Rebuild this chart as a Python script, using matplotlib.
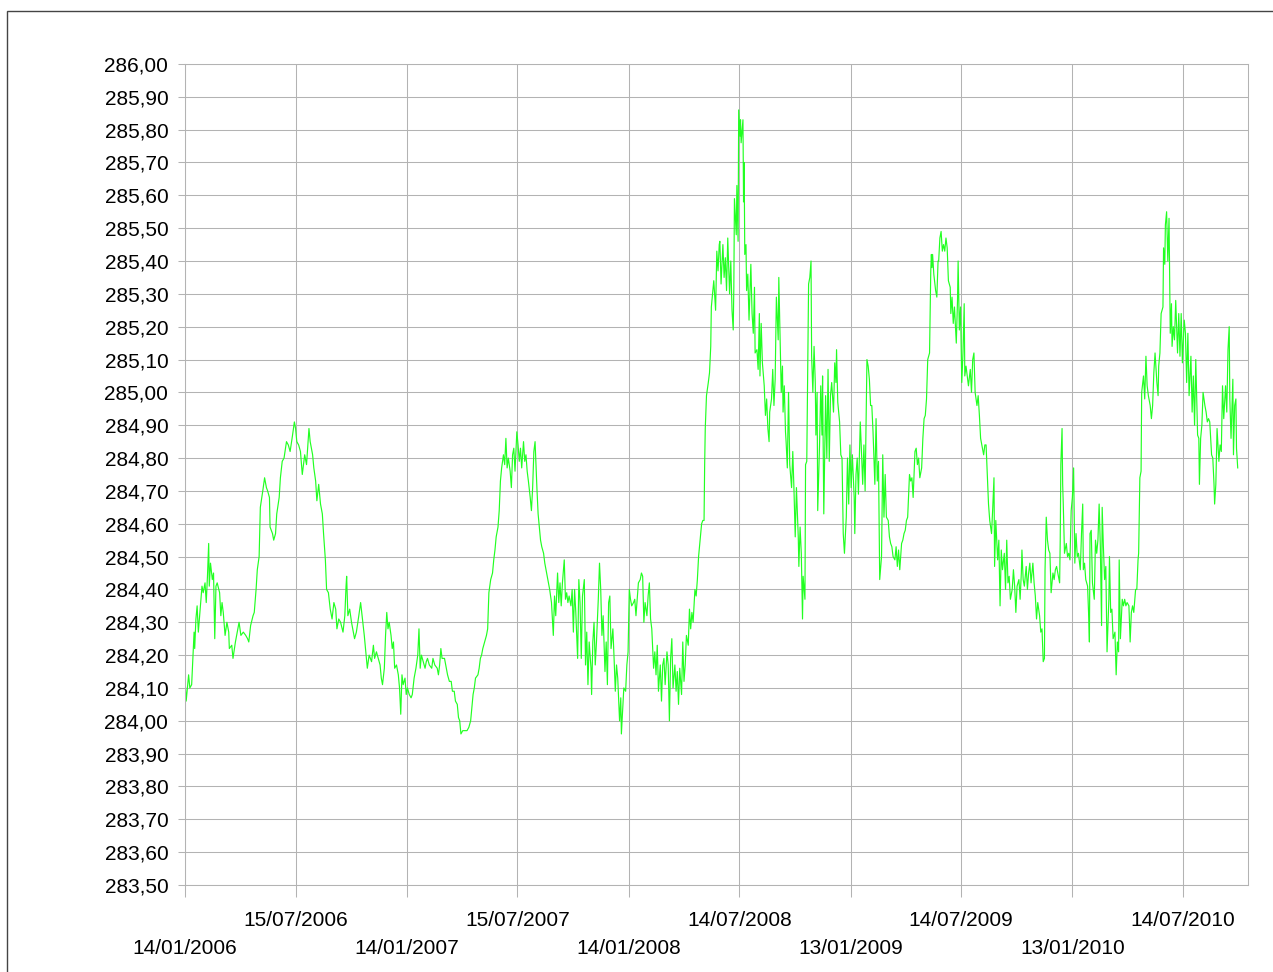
import numpy as np
import matplotlib
matplotlib.use("Agg")
import matplotlib.pyplot as plt
import matplotlib.dates as mdates
from matplotlib.patches import Rectangle
from matplotlib.ticker import FuncFormatter, MultipleLocator

plt.rcParams['font.family'] = ['Liberation Sans', 'DejaVu Sans']

# (day offset from 14/01/2006, value)
start_date = np.datetime64('2006-01-14')

seg_2006 = [
    (0, 284.13), (2, 284.06), (6, 284.14), (8, 284.10), (11, 284.11), (13, 284.19), (15, 284.27),
    (16, 284.22), (18, 284.31), (20, 284.35), (22, 284.27), (25, 284.34), (28, 284.41), (30, 284.39),
    (33, 284.42), (35, 284.36), (37, 284.44), (39, 284.54), (40, 284.41), (42, 284.48), (45, 284.43),
    (47, 284.45), (49, 284.25), (51, 284.41), (53, 284.42), (57, 284.39), (59, 284.32), (61, 284.36),
    (63, 284.33), (66, 284.26), (69, 284.30), (72, 284.27), (73, 284.22), (77, 284.23), (79, 284.19),
    (83, 284.24), (85, 284.26), (89, 284.30), (92, 284.26), (96, 284.27), (100, 284.26), (103, 284.25),
    (105, 284.24), (108, 284.29), (112, 284.32), (114, 284.33), (117, 284.40), (119, 284.46),
    (122, 284.50), (124, 284.65), (128, 284.70), (131, 284.74), (134, 284.71), (136, 284.70),
    (139, 284.68), (140, 284.59), (144, 284.57), (146, 284.55), (149, 284.57), (151, 284.63),
    (155, 284.68), (157, 284.74), (160, 284.79), (163, 284.80), (167, 284.85), (170, 284.84),
    (173, 284.82), (177, 284.87), (180, 284.91), (182, 284.89), (184, 284.85), (187, 284.84),
    (190, 284.82), (193, 284.75), (197, 284.81), (200, 284.78), (204, 284.89), (206, 284.85),
    (210, 284.81), (212, 284.77), (215, 284.73), (217, 284.67), (220, 284.72), (223, 284.66),
    (226, 284.63), (228, 284.57), (231, 284.49), (233, 284.40), (236, 284.39), (239, 284.34),
    (242, 284.31), (245, 284.36), (248, 284.34), (250, 284.28), (253, 284.31), (256, 284.30),
    (260, 284.27), (263, 284.32), (265, 284.41), (266, 284.44), (268, 284.32), (271, 284.34),
    (274, 284.30), (277, 284.27), (279, 284.25), (282, 284.27), (286, 284.32), (289, 284.36),
    (292, 284.31), (295, 284.26), (297, 284.22), (300, 284.16), (303, 284.20),
]

seg_2007 = [
    (307, 284.18), (310, 284.23), (312, 284.19), (315, 284.21), (318, 284.19), (321, 284.17),
    (323, 284.13), (325, 284.11), (328, 284.16), (330, 284.26), (332, 284.33), (334, 284.28),
    (336, 284.30), (339, 284.26), (341, 284.22), (343, 284.24), (345, 284.16), (348, 284.17),
    (351, 284.14), (353, 284.10), (355, 284.02), (357, 284.14), (359, 284.11), (362, 284.13),
    (364, 284.08), (366, 284.10), (369, 284.08), (372, 284.07), (374, 284.08), (377, 284.13),
    (380, 284.16), (383, 284.20), (385, 284.28), (387, 284.16), (389, 284.20), (392, 284.18),
    (395, 284.16), (397, 284.18), (399, 284.19), (402, 284.17), (406, 284.16), (408, 284.19),
    (411, 284.17), (415, 284.16), (417, 284.14), (419, 284.17), (421, 284.22), (423, 284.19),
    (427, 284.19), (430, 284.16), (432, 284.14), (435, 284.12), (438, 284.12), (440, 284.09),
    (443, 284.09), (445, 284.06), (448, 284.05), (450, 284.01), (452, 284.00), (454, 283.96),
    (457, 283.97), (460, 283.97), (464, 283.97), (467, 283.98), (470, 284.00), (472, 284.04),
    (474, 284.08), (476, 284.10), (478, 284.13), (482, 284.14), (484, 284.16), (486, 284.19),
    (488, 284.20), (490, 284.22), (493, 284.24), (496, 284.26), (498, 284.28), (500, 284.39),
    (503, 284.43), (506, 284.45), (508, 284.49), (510, 284.52), (512, 284.56), (515, 284.59),
    (517, 284.64), (519, 284.73), (521, 284.77), (524, 284.81), (526, 284.78), (528, 284.86),
    (530, 284.77), (532, 284.80), (535, 284.76), (537, 284.71), (539, 284.81), (541, 284.83),
    (543, 284.76), (546, 284.88), (548, 284.84), (550, 284.79), (552, 284.83), (554, 284.77),
    (557, 284.85), (559, 284.79), (561, 284.81), (563, 284.76), (565, 284.73), (568, 284.68),
    (570, 284.64), (572, 284.71), (574, 284.82), (576, 284.85), (579, 284.71), (581, 284.63),
    (583, 284.59), (585, 284.55), (587, 284.53), (590, 284.51), (592, 284.48), (595, 284.45),
    (597, 284.43), (600, 284.40),
]

seg_2008 = [
    (603, 284.36), (606, 284.26), (608, 284.38), (610, 284.32), (613, 284.45), (615, 284.36),
    (617, 284.42), (619, 284.35), (621, 284.42), (624, 284.49), (626, 284.37), (628, 284.39),
    (630, 284.36), (632, 284.38), (635, 284.35), (637, 284.40), (639, 284.27), (641, 284.40),
    (643, 284.33), (646, 284.19), (648, 284.43), (650, 284.36), (652, 284.19), (654, 284.38),
    (657, 284.43), (659, 284.17), (661, 284.27), (663, 284.11), (665, 284.24), (668, 284.16),
    (669, 284.08), (671, 284.24), (673, 284.30), (675, 284.17), (677, 284.24), (680, 284.37),
    (682, 284.48), (684, 284.40), (686, 284.26), (688, 284.32), (691, 284.15), (693, 284.24),
    (695, 284.11), (697, 284.36), (699, 284.38), (701, 284.22), (704, 284.28), (706, 284.19),
    (708, 284.09), (710, 284.17), (712, 284.13), (715, 284.00), (717, 284.07), (718, 283.96),
    (720, 284.03), (722, 284.10), (725, 284.09), (727, 284.17), (729, 284.21), (731, 284.40),
    (733, 284.37), (735, 284.35), (738, 284.36), (740, 284.37), (742, 284.32), (744, 284.37),
    (746, 284.42), (749, 284.43), (751, 284.45), (753, 284.44), (755, 284.30), (757, 284.36),
    (760, 284.32), (762, 284.38), (764, 284.42), (766, 284.31), (768, 284.28), (771, 284.16),
    (773, 284.21), (775, 284.14), (777, 284.23), (779, 284.09), (782, 284.17), (784, 284.06),
    (786, 284.17), (788, 284.19), (790, 284.11), (793, 284.21), (795, 284.17), (797, 284.00),
    (799, 284.19), (801, 284.25), (803, 284.10), (806, 284.17), (808, 284.09), (810, 284.15),
    (812, 284.05), (814, 284.16), (817, 284.08), (819, 284.24), (821, 284.12), (823, 284.17),
    (825, 284.26), (828, 284.23), (830, 284.34), (832, 284.28), (834, 284.33), (836, 284.30),
    (839, 284.40), (841, 284.38), (843, 284.43), (845, 284.50), (847, 284.54), (850, 284.60),
    (852, 284.61), (854, 284.61), (855, 284.78), (856, 284.89), (858, 284.99), (861, 285.03),
    (863, 285.06), (865, 285.14), (866, 285.26), (868, 285.30), (870, 285.34), (873, 285.25),
    (875, 285.43), (877, 285.37), (879, 285.45),
]

seg_2008b = [
    (880, 285.46), (882, 285.33), (885, 285.45), (887, 285.35), (889, 285.41), (891, 285.31),
    (893, 285.47), (896, 285.30), (898, 285.40), (900, 285.25), (902, 285.19), (903, 285.32),
    (904, 285.59), (907, 285.48), (908, 285.63), (910, 285.46), (911, 285.86), (913, 285.78),
    (914, 285.83), (915, 285.76), (918, 285.83), (919, 285.58), (920, 285.70), (921, 285.42),
    (923, 285.45), (924, 285.31), (926, 285.36), (928, 285.22), (931, 285.39), (933, 285.24),
    (935, 285.18), (937, 285.32), (938, 285.12), (941, 285.13), (943, 285.07), (945, 285.24),
    (946, 285.05), (948, 285.21), (950, 285.09), (953, 285.02), (955, 284.93), (957, 284.98),
    (959, 284.89), (961, 284.85), (962, 284.94), (965, 284.98), (967, 285.07), (969, 284.96),
    (971, 285.04), (973, 285.29), (976, 285.16), (977, 285.35), (979, 285.17), (981, 285.00),
    (983, 285.08), (984, 284.94), (986, 285.02), (988, 284.88), (989, 284.85), (991, 284.77),
    (993, 285.00), (995, 284.78), (998, 284.71), (1000, 284.82), (1002, 284.70), (1004, 284.56),
    (1006, 284.71), (1009, 284.56), (1010, 284.47), (1012, 284.59), (1014, 284.51), (1016, 284.31),
    (1017, 284.44), (1020, 284.37), (1021, 284.78), (1023, 284.79), (1024, 284.97), (1026, 285.33),
    (1028, 285.35), (1030, 285.40), (1031, 285.11), (1033, 285.00), (1035, 285.14), (1037, 285.03),
    (1038, 284.87), (1040, 285.00), (1041, 284.64), (1044, 284.84), (1046, 285.02), (1048, 284.87),
    (1049, 285.05), (1051, 284.63), (1054, 284.99), (1056, 284.80), (1058, 285.07), (1060, 284.79),
    (1062, 284.99), (1064, 285.03), (1067, 284.94), (1069, 285.09), (1071, 285.03), (1072, 285.13),
    (1074, 284.97), (1077, 284.91), (1079, 284.81), (1081, 284.80), (1083, 284.57), (1085, 284.51),
    (1088, 284.62), (1090, 284.80), (1092, 284.66), (1094, 284.84), (1096, 284.71), (1098, 284.81),
    (1101, 284.68), (1102, 284.57), (1104, 284.75), (1106, 284.80), (1108, 284.69), (1111, 284.91),
    (1113, 284.82), (1115, 284.72), (1117, 284.84), (1119, 284.70), (1122, 285.10), (1124, 285.08),
    (1126, 285.04), (1128, 284.96), (1130, 284.96), (1132, 284.88), (1135, 284.72), (1137, 284.92),
    (1139, 284.73), (1141, 284.79), (1143, 284.43), (1146, 284.50), (1148, 284.81), (1150, 284.62),
    (1152, 284.75), (1154, 284.62), (1157, 284.61), (1159, 284.56), (1161, 284.54), (1163, 284.53),
    (1165, 284.50), (1168, 284.49), (1170, 284.53), (1172, 284.47), (1174, 284.52), (1176, 284.46),
    (1179, 284.54), (1181, 284.55), (1183, 284.57), (1185, 284.58), (1187, 284.61), (1189, 284.62),
    (1192, 284.75),
]

seg_2009 = [
    (1194, 284.73), (1196, 284.74), (1198, 284.68), (1201, 284.82), (1203, 284.83), (1205, 284.78),
    (1207, 284.80), (1209, 284.74), (1212, 284.77), (1214, 284.86), (1216, 284.92), (1218, 284.93),
    (1220, 284.98), (1222, 285.10), (1225, 285.12), (1226, 285.25), (1227, 285.37), (1228, 285.42),
    (1229, 285.38), (1230, 285.42), (1232, 285.36), (1235, 285.31), (1237, 285.29), (1239, 285.40),
    (1240, 285.40), (1242, 285.47), (1244, 285.49), (1246, 285.43), (1248, 285.45), (1250, 285.43),
    (1252, 285.47), (1254, 285.44), (1256, 285.34), (1259, 285.32), (1260, 285.24), (1262, 285.29),
    (1264, 285.21), (1266, 285.26), (1269, 285.15), (1271, 285.28), (1272, 285.40), (1274, 285.19),
    (1276, 285.26), (1278, 285.03), (1280, 285.12), (1282, 285.27), (1283, 285.05), (1285, 285.08),
    (1287, 285.05), (1289, 285.02), (1292, 285.07), (1294, 285.00), (1296, 285.10), (1298, 285.12),
    (1300, 285.00), (1303, 284.96), (1305, 284.99), (1307, 284.93), (1309, 284.86), (1311, 284.84),
    (1314, 284.81), (1316, 284.84), (1318, 284.84), (1320, 284.75), (1322, 284.66), (1324, 284.61),
    (1327, 284.57), (1329, 284.65), (1331, 284.74), (1332, 284.47), (1334, 284.61), (1337, 284.49),
    (1339, 284.55), (1341, 284.35), (1343, 284.52), (1345, 284.46), (1348, 284.51), (1350, 284.40),
    (1352, 284.55), (1354, 284.42), (1356, 284.44), (1358, 284.37), (1361, 284.40), (1363, 284.46),
    (1365, 284.41), (1367, 284.33), (1369, 284.41), (1372, 284.43), (1374, 284.37), (1376, 284.45),
    (1377, 284.52), (1379, 284.43), (1381, 284.41), (1384, 284.47), (1386, 284.40), (1388, 284.45),
    (1390, 284.48), (1392, 284.42), (1395, 284.48), (1397, 284.42), (1399, 284.38), (1401, 284.31),
    (1403, 284.36), (1406, 284.32), (1408, 284.27), (1410, 284.28), (1412, 284.18), (1414, 284.19),
    (1415, 284.46), (1417, 284.62), (1419, 284.55), (1421, 284.52), (1423, 284.51), (1425, 284.39),
    (1428, 284.45), (1430, 284.43), (1432, 284.46), (1434, 284.47), (1436, 284.45), (1439, 284.42),
    (1440, 284.55), (1441, 284.78), (1443, 284.89), (1444, 284.72), (1445, 284.66), (1447, 284.51),
    (1450, 284.54), (1452, 284.50), (1454, 284.51), (1456, 284.49), (1458, 284.64), (1460, 284.68),
    (1462, 284.77), (1464, 284.48), (1466, 284.57), (1468, 284.50), (1470, 284.51), (1473, 284.46),
    (1475, 284.57), (1477, 284.66), (1478, 284.46), (1480, 284.48), (1482, 284.43), (1485, 284.41),
    (1487, 284.31), (1488, 284.24),
]

seg_2010 = [
    (1489, 284.57), (1491, 284.58), (1493, 284.42), (1496, 284.37), (1498, 284.55), (1500, 284.51),
    (1502, 284.55), (1504, 284.66), (1506, 284.53), (1508, 284.29), (1509, 284.65), (1511, 284.53),
    (1513, 284.43), (1515, 284.47), (1517, 284.21), (1520, 284.37), (1521, 284.50), (1523, 284.33),
    (1525, 284.34), (1527, 284.25), (1530, 284.27), (1532, 284.14), (1534, 284.24), (1536, 284.21),
    (1537, 284.49), (1539, 284.25), (1542, 284.37), (1544, 284.35), (1546, 284.37), (1548, 284.35),
    (1550, 284.36), (1553, 284.35), (1555, 284.24), (1557, 284.33), (1559, 284.35), (1561, 284.33),
    (1564, 284.40), (1566, 284.40), (1568, 284.49), (1569, 284.51), (1570, 284.63), (1571, 284.74),
    (1573, 284.76), (1574, 285.00), (1577, 285.05), (1579, 284.98), (1581, 285.11), (1583, 285.02),
    (1585, 284.99), (1588, 284.96), (1590, 284.92), (1592, 284.96), (1594, 285.06), (1596, 285.12),
    (1599, 285.03), (1601, 284.99), (1602, 285.08), (1604, 285.12), (1606, 285.24), (1609, 285.26),
    (1610, 285.44), (1612, 285.39), (1613, 285.51), (1615, 285.55), (1617, 285.40), (1619, 285.53),
    (1621, 285.18), (1623, 285.27), (1624, 285.14), (1626, 285.20), (1628, 285.16), (1630, 285.28),
    (1633, 285.12), (1635, 285.24), (1637, 285.11), (1639, 285.24), (1641, 285.09), (1644, 285.22),
    (1646, 285.18), (1648, 285.03), (1650, 285.18), (1652, 284.99), (1655, 285.11), (1657, 284.94),
    (1659, 285.05), (1661, 284.90), (1663, 285.10), (1666, 284.87), (1668, 284.86), (1669, 284.72),
    (1671, 284.86), (1673, 284.90), (1675, 285.00), (1678, 284.96), (1680, 284.94), (1682, 284.91),
    (1684, 284.92), (1686, 284.91), (1689, 284.81), (1691, 284.80), (1693, 284.72), (1694, 284.66),
    (1696, 284.72), (1698, 284.89), (1701, 284.79), (1703, 284.84), (1705, 284.82), (1707, 285.02),
    (1709, 284.92), (1712, 285.02), (1714, 284.94), (1716, 285.13), (1718, 285.20), (1719, 284.98),
    (1721, 284.86), (1724, 285.04), (1725, 284.81), (1727, 284.96), (1729, 284.98), (1730, 284.83),
    (1732, 284.77),
]

upper_ticks = ['2006-07-15', '2007-07-15', '2008-07-14', '2009-07-14', '2010-07-14']
lower_ticks = ['2006-01-14', '2007-01-14', '2008-01-14', '2009-01-13', '2010-01-13']
x_span_days = 1749

series = seg_2006 + seg_2007 + seg_2008 + seg_2008b + seg_2009 + seg_2010
days = np.array([d for d, v in series])
vals = np.array([v for d, v in series])
dates = start_date + days.astype('timedelta64[D]')

fig = plt.figure(figsize=(12.73, 9.72), dpi=100)
ax = fig.add_axes([0.1453, 0.0895, 0.8351, 0.8447])

ax.plot(dates, vals, color='#22ff22', lw=0.85)

grid_c = '#b3b3b3'
ax.set_ylim(283.5, 286.0)
ax.set_xlim(mdates.date2num(start_date), mdates.date2num(start_date) + x_span_days)
ax.yaxis.set_major_locator(MultipleLocator(0.1))
ax.yaxis.set_major_formatter(FuncFormatter(lambda v, p: f"{v:.2f}".replace('.', ',')))

lo = [np.datetime64(t) for t in lower_ticks]
up = [np.datetime64(t) for t in upper_ticks]
ax.set_xticks(mdates.date2num(lo))
ax.set_xticklabels([t.item().strftime('%d/%m/%Y') for t in lo])
ax.set_xticks(mdates.date2num(up), minor=True)
ax.set_xticklabels([t.item().strftime('%d/%m/%Y') for t in up], minor=True)

ax.grid(True, which='both', axis='x', color=grid_c, lw=0.75)
ax.grid(True, which='major', axis='y', color=grid_c, lw=0.75)
ax.set_axisbelow(True)

for s in ax.spines.values():
    s.set_color(grid_c)
    s.set_linewidth(0.75)

ax.tick_params(axis='y', which='major', length=5, width=0.75, color=grid_c,
               labelsize=15, pad=7, labelcolor='black')
ax.tick_params(axis='x', which='major', length=8.6, width=0.75, color=grid_c,
               labelsize=15, pad=30.5, labelcolor='black')
ax.tick_params(axis='x', which='minor', length=8.6, width=0.75, color=grid_c,
               labelsize=15, pad=10, labelcolor='black')

# outer frame of the chart object
fig.add_artist(Rectangle((7 / 1273, -0.1), 1.2, 1 - 11 / 972 + 0.1, transform=fig.transFigure,
                         fill=False, ec='#444444', lw=1))

fig.savefig('out.png', dpi=100)
